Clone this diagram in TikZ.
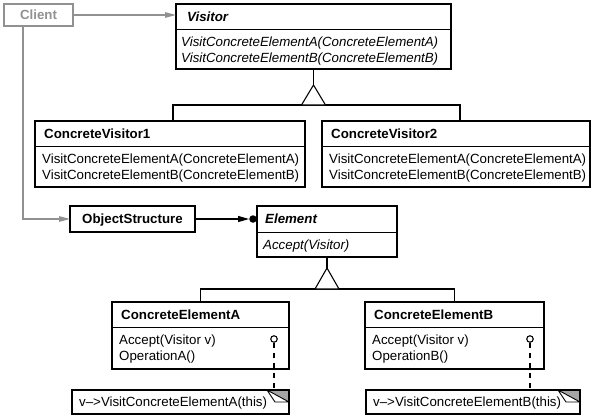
\documentclass[tikz,border=0pt]{standalone}
\usepackage{fontspec}
\setmainfont{Liberation Sans}
\usetikzlibrary{arrows.meta,calc}
\definecolor{cgray}{RGB}{145,145,145}
\definecolor{foldgray}{RGB}{165,165,165}
\begin{document}
\begin{tikzpicture}[x=1pt,y=-1pt,
  font=\fontsize{13.3}{15}\selectfont,
  box/.style={draw, line width=1.3pt, rectangle, inner sep=0pt, outer sep=0pt, anchor=north west},
  hdr/.style={anchor=base west, inner sep=0pt, font=\fontsize{13.3}{15}\selectfont\bfseries},
  ahdr/.style={anchor=base west, inner sep=0pt, font=\fontsize{13.3}{15}\selectfont\bfseries\itshape},
  op/.style={anchor=base west, inner sep=0pt},
  aop/.style={anchor=base west, inner sep=0pt, font=\fontsize{13.3}{15}\selectfont\itshape},
  sepline/.style={line width=0.9pt},
  conn/.style={line width=1.1pt},
  inh/.style={line width=1.1pt, fill=white},
  grayconn/.style={line width=1.3pt, cgray, -{Triangle[length=11pt,width=5.5pt]}},
  blackarrow/.style={line width=1.1pt, -{Triangle[length=11pt,width=6pt]}},
  notebox/.style={draw, line width=1.1pt, rectangle, inner sep=0pt, outer sep=0pt, anchor=north west},
  dashconn/.style={line width=1.1pt, dash pattern=on 5pt off 5pt},
  opencirc/.style={circle, draw, line width=1.1pt, minimum size=6.5pt, inner sep=0pt, fill=white}
]
\useasboundingbox (0,0) rectangle (597,418);

% Client
\node (client) [box, draw=cgray, minimum width=69pt, minimum height=22pt] at (4,4) {};
\node (clienttxt) [anchor=base, inner sep=0pt, font=\fontsize{13.3}{15}\selectfont\bfseries, text=cgray] at (38.5,19.5) {Client};

% Visitor
\node (visitor) [box, minimum width=275pt, minimum height=65pt] at (176,4) {};
\draw[sepline] (176,29) -- (451,29);
\node (visitorh) [ahdr] at (187,21) {Visitor};
\node (visitoro1) [aop] at (181,46) {VisitConcreteElementA(ConcreteElementA)};
\node (visitoro2) [aop] at (181,62) {VisitConcreteElementB(ConcreteElementB)};

% ConcreteVisitor1
\node (cv1) [box, minimum width=270pt, minimum height=66pt] at (35,121) {};
\draw[sepline] (35,146) -- (305,146);
\node (cv1h) [hdr] at (44,138) {ConcreteVisitor1};
\node (cv1o1) [op] at (42,163.5) {VisitConcreteElementA(ConcreteElementA)};
\node (cv1o2) [op] at (42,179.5) {VisitConcreteElementB(ConcreteElementB)};

% ConcreteVisitor2
\node (cv2) [box, minimum width=268pt, minimum height=66pt] at (322,121) {};
\draw[sepline] (322,146) -- (590,146);
\node (cv2h) [hdr] at (331,138) {ConcreteVisitor2};
\node (cv2o1) [op] at (329,163.5) {VisitConcreteElementA(ConcreteElementA)};
\node (cv2o2) [op] at (329,179.5) {VisitConcreteElementB(ConcreteElementB)};

% ObjectStructure
\node (os) [box, minimum width=125pt, minimum height=26pt] at (70,206) {};
\node (ostxt) [anchor=base, inner sep=0pt, font=\fontsize{13.3}{15}\selectfont\bfseries] at (132.5,223.5) {ObjectStructure};

% Element
\node (element) [box, minimum width=140pt, minimum height=51pt] at (257,206) {};
\draw[sepline] (257,232) -- (397,232);
\node (elementh) [ahdr] at (265,223.5) {Element};
\node (elemento1) [aop] at (263,249) {Accept(Visitor)};

% ConcreteElementA
\node (cea) [box, minimum width=177pt, minimum height=67pt] at (112,302) {};
\draw[sepline] (112,327) -- (289,327);
\node (ceah) [hdr] at (121,319) {ConcreteElementA};
\node (ceao1) [op] at (119,344.5) {Accept(Visitor v)};
\node (ceao2) [op] at (119,360.5) {OperationA()};

% ConcreteElementB
\node (ceb) [box, minimum width=179pt, minimum height=67pt] at (365,302) {};
\draw[sepline] (365,327) -- (544,327);
\node (cebh) [hdr] at (374,319) {ConcreteElementB};
\node (cebo1) [op] at (372,344.5) {Accept(Visitor v)};
\node (cebo2) [op] at (372,360.5) {OperationB()};

% Notes
\node (na) [notebox, minimum width=217pt, minimum height=24pt] at (72,390) {};
\node (natxt) [op] at (79,406.5) {v–>VisitConcreteElementA(this)};
\node (nb) [notebox, minimum width=214pt, minimum height=24pt] at (366,390) {};
\node (nbtxt) [op] at (373,406.5) {v–>VisitConcreteElementB(this)};
\foreach \n in {na,nb}{
  \fill[foldgray] ($(\n.north east)+(-22,0)$) -- (\n.north east) -- ($(\n.north east)+(0,12)$) -- cycle;
  \draw[line width=0.9pt, fill=white, line join=round] ($(\n.north east)+(-22,0)$) -- ($(\n.north east)+(-14,12)$) -- ($(\n.north east)+(0,12)$) -- cycle;
  \draw[line width=1.1pt] ($(\n.north east)+(-24,0)$) -- (\n.north east) -- ($(\n.north east)+(0,14)$);
}

% Client connectors
\draw[grayconn] (client.east) -- (client.east -| visitor.west);
\draw[grayconn] ([xshift=-15.5pt]client.south) |- (os.west);

% ObjectStructure -> Element
\node (dot) [circle, fill, minimum size=7.5pt, inner sep=0pt] at (253,219) {};
\draw[blackarrow] (os.east) -- (dot.west);

% Visitor inheritance
\coordinate (tv) at (313.5,85);
\coordinate (barv) at (313.5,105);
\draw[conn] (visitor.south) -- (tv);
\draw[conn] ([xshift=3pt]cv1.north) |- (barv) -| ([xshift=4pt]cv2.north);
\draw[inh] (tv) -- ++(-12,20) -- ++(24,0) -- cycle;

% Element inheritance
\coordinate (te) at (327,268);
\coordinate (bare) at (327,289);
\draw[conn] (element.south) -- (te);
\draw[conn] (cea.north) |- (bare) -| (ceb.north);
\draw[inh] (te) -- ++(-12,21) -- ++(24,0) -- cycle;

% Implementation notes
\node (circa) [opencirc] at (274,339) {};
\node (circb) [opencirc] at (530,339) {};
\draw[dashconn] (circa.south) -- (circa.south |- na.north);
\draw[dashconn] (circb.south) -- (circb.south |- nb.north);
\end{tikzpicture}
\end{document}
